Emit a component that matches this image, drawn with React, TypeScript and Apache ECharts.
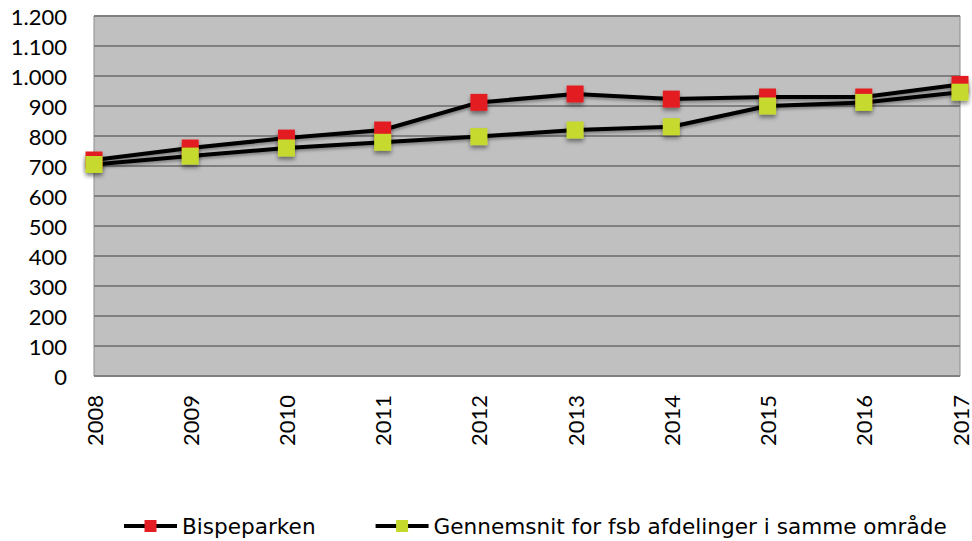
import React, { useEffect, useRef } from "react";
import * as echarts from "echarts";

const years = ["2008", "2009", "2010", "2011", "2012", "2013", "2014", "2015", "2016", "2017"];
const bispeparken = [720, 760, 793, 820, 912, 940, 923, 930, 930, 972];
const gennemsnit = [705, 733, 760, 779, 798, 820, 831, 900, 912, 946];
const seriesNames = ["Bispeparken", "Gennemsnit for fsb afdelinger i samme område"];

const FONT = "Lato, 'Open Sans', sans-serif";

export default function App() {
  const ref = useRef<HTMLDivElement>(null);
  useEffect(() => {
    const chart = echarts.init(ref.current!, undefined, { renderer: "svg" });
    const mkSeries = (name: string, data: number[], color: string) => ({
      name,
      type: "line",
      data,
      symbol: "rect",
      symbolSize: 17,
      lineStyle: { color: "#000", width: 4, shadowColor: "rgba(0,0,0,0.35)", shadowBlur: 3, shadowOffsetY: 2 },
      itemStyle: { color, shadowColor: "rgba(0,0,0,0.45)", shadowBlur: 4, shadowOffsetY: 3 },
      emphasis: { disabled: true },
    });
    chart.setOption({
      animation: false,
      backgroundColor: "#fff",
      grid: { left: 94, right: 12, top: 16, bottom: 165, show: true, backgroundColor: "#c0c0c0", borderColor: "#8c8c8c", borderWidth: 1 },
      legend: {
        top: 515,
        left: 122,
        padding: 0,
        itemWidth: 53,
        itemHeight: 15,
        itemGap: 58,
        lineStyle: { width: 4, color: "#000", shadowBlur: 0 },
        itemStyle: { shadowBlur: 0 },
        textStyle: { fontFamily: "'DejaVu Sans', sans-serif", fontSize: 21.6, color: "#000" },
        data: seriesNames,
      },
      xAxis: {
        type: "category",
        data: years,
        boundaryGap: false,
        axisLine: { show: false },
        axisTick: { show: false },
        axisLabel: { rotate: 90, fontFamily: FONT, fontSize: 22, color: "#000", margin: 19 },
        splitLine: { show: false },
      },
      yAxis: {
        type: "value",
        min: 0,
        max: 1200,
        interval: 100,
        axisLine: { show: false },
        axisTick: { show: false },
        axisLabel: {
          fontFamily: FONT,
          fontSize: 22,
          color: "#000",
          margin: 27,
          formatter: (v: number) => v.toLocaleString("da-DK").replace(/\u00a0/g, "."),
        },
        splitLine: { lineStyle: { color: "#808080", width: 2 } },
      },
      series: [mkSeries(seriesNames[0], bispeparken, "#e31e24"), mkSeries(seriesNames[1], gennemsnit, "#c5d92d")],
    });
    return () => chart.dispose();
  }, []);
  return <div ref={ref} style={{ width: 972, height: 541, position: "absolute", left: 0, top: 0 }} />;
}
